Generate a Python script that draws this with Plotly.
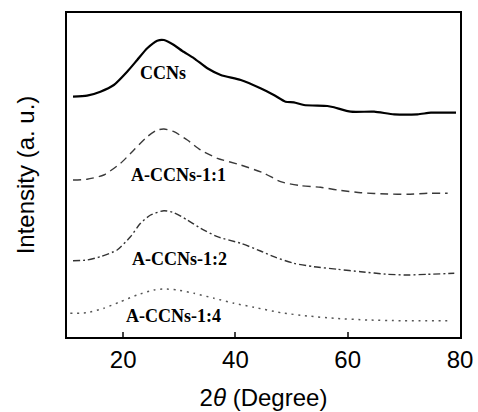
import plotly.graph_objects as go

# Data (2θ in degrees, intensity in arbitrary offset units)
ccns_x = [11.07, 13.57, 15.95, 18.34, 20.71, 22.5, 24.29, 26.07, 27.27, 29.05, 30.54, 32.63, 35.0,
          37.38, 40.95, 44.46, 46.84, 48.93, 50.41, 52.2, 56.38, 57.55, 60.54, 64.7, 68.27, 72.45, 74.82, 79.29]
ccns_y = [240.3, 241.3, 245.3, 252, 265.3, 277, 288.7, 296.3, 297, 292, 286, 278.7, 268.7,
          262, 257, 248.7, 242, 235.3, 234.7, 232, 231, 229.7, 225.3, 225.3, 222.7, 222.7, 224.3, 224.3]

a11_x = [11.07, 13.57, 16.55, 19.52, 21.91, 24.29, 26.07, 27.27, 29.05, 31.43, 33.8, 36.79, 40.95,
         45.13, 48.04, 51.61, 55.18, 58.16, 62.32, 67.09, 70.66, 74.23, 77.8]
a11_y = [157, 157.7, 162, 173.7, 187, 200.3, 207, 208, 205.3, 197, 187, 178.7, 172,
         163.7, 155.3, 151.3, 149.7, 147, 144.3, 143, 142.7, 143.7, 143.7]

a12_x = [11.07, 13.57, 15.95, 18.93, 21.3, 23.09, 24.88, 27.27, 29.05, 31.43, 33.8, 36.79, 40.95,
         44.46, 46.84, 50.41, 53.98, 58.16, 62.32, 67.09, 70.66, 74.23, 78.98]
a12_y = [76.3, 77, 80.3, 87, 100.3, 113.7, 122, 126.3, 124.3, 117, 108.7, 100.3, 93.7,
         86, 80.3, 73.7, 70.3, 67.7, 65.3, 62.7, 62, 62.7, 63.7]

a14_x = [10.59, 13.57, 16.55, 19.52, 22.5, 25.48, 27.27, 29.64, 32.63, 36.2, 39.77, 43.34,
         48.09, 52.86, 57.63, 63.57, 69.52, 78.45]
a14_y = [23.7, 24.3, 28.7, 35.3, 42, 47, 48, 47, 43.7, 38.7, 33.7, 29.7,
         24.3, 21, 18.7, 17, 16.3, 16.3]

labels = ["CCNs", "A-CCNs-1:1", "A-CCNs-1:2", "A-CCNs-1:4"]
label_x = [27.1, 29.9, 30.0, 29.0]
label_y = [264, 162, 77.7, 21]

x_ticks = [20, 40, 60, 80]

series = [
    (ccns_x, ccns_y, dict(color="black", width=2.2, dash="solid")),
    (a11_x, a11_y, dict(color="#3a3a3a", width=1.4, dash="8px,5px")),
    (a12_x, a12_y, dict(color="#333333", width=1.4, dash="7px,3px,2px,3px")),
    (a14_x, a14_y, dict(color="#555555", width=1.5, dash="2px,4.7px")),
]

fig = go.Figure()
for (xs, ys, ln), name in zip(series, labels):
    fig.add_trace(go.Scatter(x=xs, y=ys, mode="lines", name=name,
                             line=dict(shape="spline", smoothing=0.6, **ln)))

for t, lx, ly in zip(labels, label_x, label_y):
    fig.add_annotation(x=lx, y=ly, text="<b>" + t + "</b>", showarrow=False,
                       font=dict(family="Liberation Serif", size=18, color="black"),
                       xanchor="center", yanchor="middle")

fig.update_layout(
    width=478, height=412,
    margin=dict(l=67, r=18, t=13, b=75),
    paper_bgcolor="white", plot_bgcolor="white",
    showlegend=False,
    font=dict(family="Liberation Sans, Arial", color="black"),
)
fig.update_xaxes(
    range=[10, 80], tickvals=x_ticks, ticks="inside", ticklen=5, tickwidth=1.5,
    showline=True, linecolor="black", linewidth=1.5, mirror=True,
    showgrid=False, zeroline=False, tickfont=dict(size=24), automargin=False,
    title=dict(text="2<i>θ</i> (Degree)", font=dict(size=24), standoff=18),
)
fig.update_yaxes(
    range=[0, 324], showticklabels=False, ticks="",
    showline=True, linecolor="black", linewidth=1.5, mirror=True,
    showgrid=False, zeroline=False, automargin=False,
    title=dict(text="Intensity (a. u.)", font=dict(size=24), standoff=24),
)

fig.write_html("out.html", config={"displayModeBar": False},
               post_script="document.body.style.margin='0';document.body.style.overflow='hidden';")
